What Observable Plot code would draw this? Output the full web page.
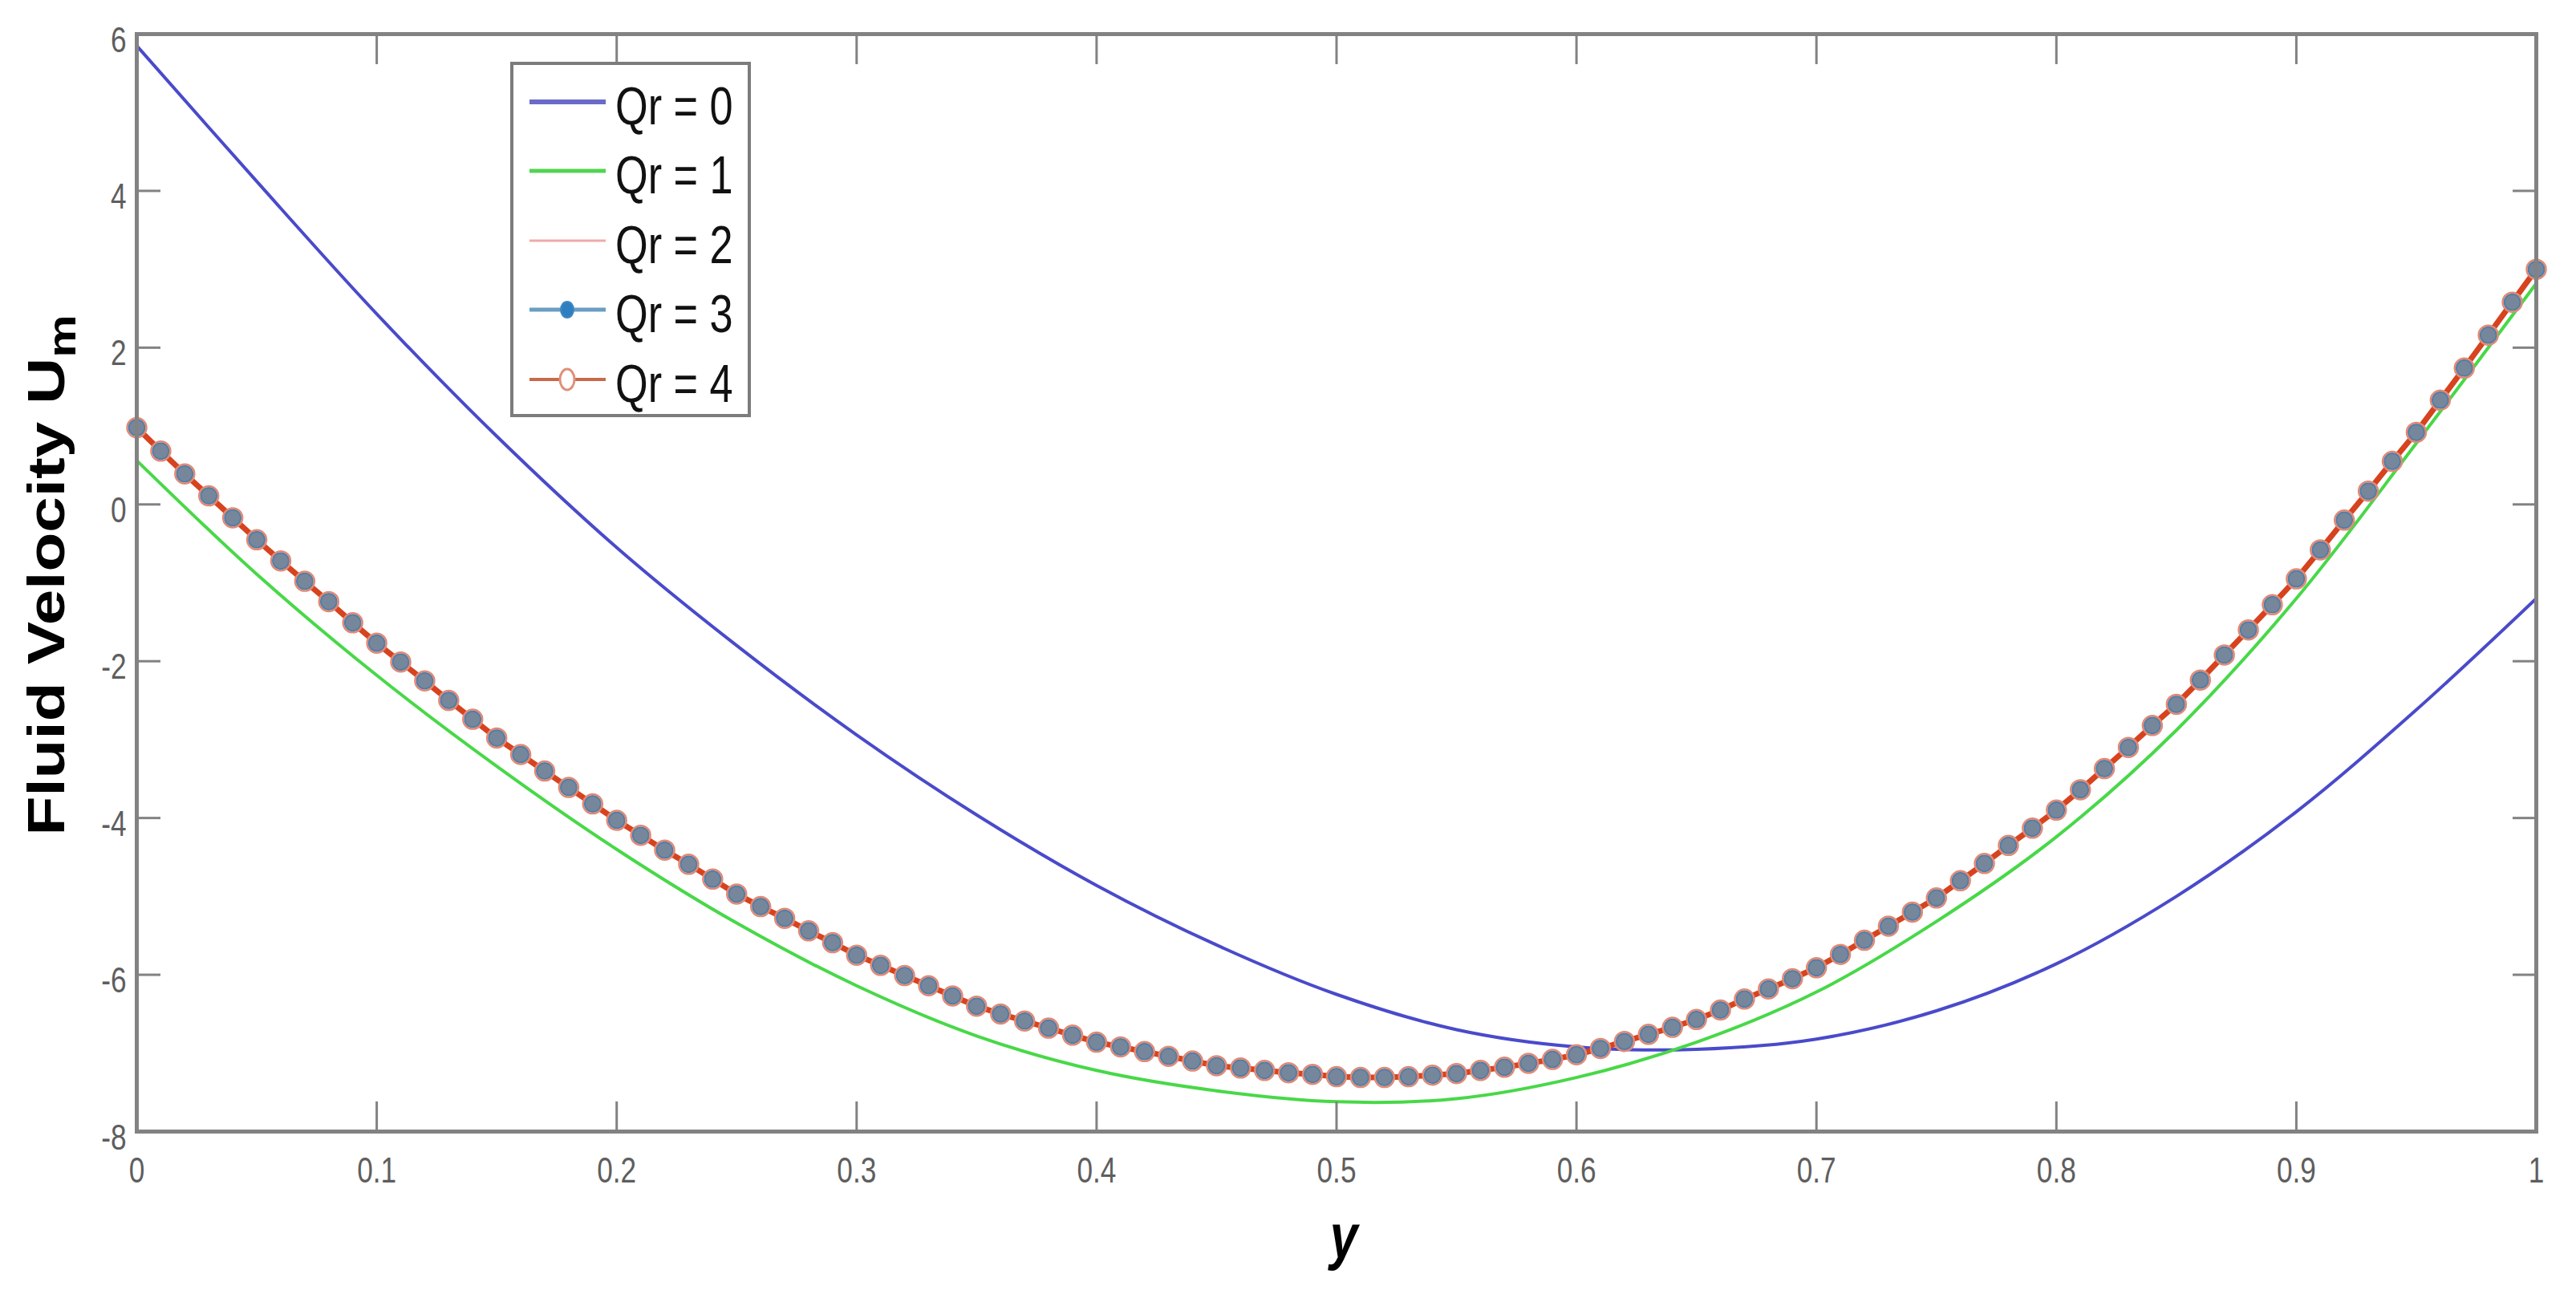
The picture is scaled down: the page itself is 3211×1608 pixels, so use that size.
<!DOCTYPE html>
<html>
<head>
<meta charset="utf-8">
<script src="https://cdn.jsdelivr.net/npm/d3@7"></script>
<script src="https://cdn.jsdelivr.net/npm/@observablehq/plot@0.6"></script>
<style>
  html, body { margin: 0; padding: 0; background: #fff; }
  #wrap { position: relative; width: 3211px; height: 1608px; overflow: hidden; }
  #legend { position: absolute; left: 636px; top: 77px; }
</style>
</head>
<body>
<div id="wrap"></div>
<script>
// ---- data ----
const seriesNames = ["Qr = 0", "Qr = 1", "Qr = 2", "Qr = 3", "Qr = 4"];
const xTicks = [0, 0.1, 0.2, 0.3, 0.4, 0.5, 0.6, 0.7, 0.8, 0.9, 1];
const yTicks = [-8, -6, -4, -2, 0, 2, 4, 6];

// positions (y) at which Qr = 0 and Qr = 1 were read
const yCoarse = [0, 0.05, 0.1, 0.15, 0.2, 0.25, 0.3, 0.35, 0.4, 0.45, 0.5,
                 0.55, 0.6, 0.65, 0.7, 0.75, 0.8, 0.85, 0.9, 0.95, 1];
const qr0 = [5.85, 4.12, 2.43, 0.87, -0.55, -1.80, -2.94, -3.96, -4.86, -5.62, -6.25,
             -6.70, -6.92, -6.95, -6.82, -6.46, -5.86, -5.00, -3.92, -2.62, -1.20];
const qr1 = [0.56, -0.89, -2.18, -3.34, -4.40, -5.34, -6.14, -6.78, -7.22, -7.48, -7.62,
             -7.58, -7.31, -6.86, -6.22, -5.32, -4.24, -2.88, -1.20, 0.78, 2.82];

// marker positions (every 0.01) for Qr = 2, 3, 4
const yFine = [0, 0.01, 0.02, 0.03, 0.04, 0.05, 0.06, 0.07, 0.08, 0.09,
  0.1, 0.11, 0.12, 0.13, 0.14, 0.15, 0.16, 0.17, 0.18, 0.19,
  0.2, 0.21, 0.22, 0.23, 0.24, 0.25, 0.26, 0.27, 0.28, 0.29,
  0.3, 0.31, 0.32, 0.33, 0.34, 0.35, 0.36, 0.37, 0.38, 0.39,
  0.4, 0.41, 0.42, 0.43, 0.44, 0.45, 0.46, 0.47, 0.48, 0.49,
  0.5, 0.51, 0.52, 0.53, 0.54, 0.55, 0.56, 0.57, 0.58, 0.59,
  0.6, 0.61, 0.62, 0.63, 0.64, 0.65, 0.66, 0.67, 0.68, 0.69,
  0.7, 0.71, 0.72, 0.73, 0.74, 0.75, 0.76, 0.77, 0.78, 0.79,
  0.8, 0.81, 0.82, 0.83, 0.84, 0.85, 0.86, 0.87, 0.88, 0.89,
  0.9, 0.91, 0.92, 0.93, 0.94, 0.95, 0.96, 0.97, 0.98, 0.99, 1];
// Qr = 2, 3 and 4 overlap in the picture; read as one set of values
const qr234 = [0.98, 0.68, 0.39, 0.11, -0.17, -0.45, -0.72, -0.98, -1.24, -1.51,
  -1.77, -2.01, -2.25, -2.50, -2.74, -2.98, -3.19, -3.40, -3.61, -3.82,
  -4.03, -4.22, -4.41, -4.59, -4.78, -4.97, -5.13, -5.28, -5.44, -5.59,
  -5.75, -5.88, -6.01, -6.14, -6.27, -6.40, -6.50, -6.59, -6.68, -6.77,
  -6.86, -6.92, -6.98, -7.04, -7.10, -7.16, -7.19, -7.22, -7.25, -7.27,
  -7.30, -7.31, -7.31, -7.30, -7.28, -7.26, -7.22, -7.18, -7.13, -7.08,
  -7.02, -6.94, -6.85, -6.76, -6.67, -6.57, -6.45, -6.31, -6.18, -6.05,
  -5.91, -5.74, -5.56, -5.38, -5.20, -5.02, -4.80, -4.58, -4.35, -4.13,
  -3.90, -3.64, -3.37, -3.10, -2.82, -2.55, -2.24, -1.92, -1.60, -1.28,
  -0.95, -0.58, -0.20, 0.17, 0.55, 0.92, 1.33, 1.74, 2.16, 2.58, 3.00];
const qr2 = qr234, qr3 = qr234, qr4 = qr234;

// ---- build tables ----
const tab = (xs, vs) => xs.map((x, i) => ({x, v: vs[i]}));
const rows0 = tab(yCoarse, qr0), rows1 = tab(yCoarse, qr1);
const rows2 = tab(yFine, qr2), rows3 = tab(yFine, qr3), rows4 = tab(yFine, qr4);

const axisGray = "#828282";
const labelGray = "#5e5e5e";
const noText = () => "";

const chart = Plot.plot({
  width: 3211,
  height: 1608,
  marginLeft: 170,
  marginRight: 50,
  marginTop: 42,
  marginBottom: 198,
  x: {domain: [0, 1]},
  y: {domain: [-8, 6]},
  style: {fontFamily: "'Liberation Sans', Arial, sans-serif", background: "#fff", overflow: "visible"},
  marks: [
    Plot.line(rows0, {x: "x", y: "v", stroke: "#4a4acb", strokeWidth: 4, curve: "catmull-rom"}),
    Plot.line(rows1, {x: "x", y: "v", stroke: "#48d848", strokeWidth: 4, curve: "catmull-rom"}),
    Plot.line(rows2, {x: "x", y: "v", stroke: "#f2a0a0", strokeWidth: 2}),
    Plot.line(rows3, {x: "x", y: "v", stroke: "#4a7fb0", strokeWidth: 5}),
    Plot.line(rows4, {x: "x", y: "v", stroke: "#d6431e", strokeWidth: 7}),
    Plot.dot(rows3, {x: "x", y: "v", r: 10, fill: "#76879c", stroke: "#4d7eaa", strokeWidth: 2}),
    Plot.dot(rows4, {x: "x", y: "v", r: 12, fill: "none", stroke: "#e08a76", strokeWidth: 2.5}),
    // ticks (inward, MATLAB box style)
    Plot.axisX(xTicks, {anchor: "bottom", tickSize: -37, tickFormat: noText, fill: "none", label: null, stroke: axisGray, strokeWidth: 3}),
    Plot.axisX(xTicks, {anchor: "top", tickSize: -37, tickFormat: noText, fill: "none", label: null, stroke: axisGray, strokeWidth: 3}),
    Plot.axisY(yTicks, {anchor: "left", tickSize: -30, tickFormat: noText, fill: "none", label: null, stroke: axisGray, strokeWidth: 3}),
    Plot.axisY(yTicks, {anchor: "right", tickSize: -30, tickFormat: noText, fill: "none", label: null, stroke: axisGray, strokeWidth: 3}),
    // tick labels
    Plot.axisX(xTicks, {anchor: "bottom", tickSize: 0, tickPadding: 32, tickFormat: d => String(d), label: null, fontSize: 44, fill: labelGray}),
    Plot.axisY(yTicks, {anchor: "left", tickSize: 0, tickPadding: 13, dy: 8, tickFormat: d => String(d), label: null, fontSize: 44, fill: labelGray}),
    Plot.frame({stroke: axisGray, strokeWidth: 5})
  ]
});

document.getElementById("wrap").appendChild(chart);

const svg = d3.select(chart);
// horizontally squeeze tick labels like the reference
function squeeze(sel, s) {
  sel.each(function () {
    const el = d3.select(this);
    const tr = el.attr("transform");
    if (tr) el.attr("transform", tr + ` scale(${s},1)`);
    else {
      const x = +el.attr("x") || 0;
      el.attr("x", null).attr("transform", `translate(${x},0) scale(${s},1)`);
    }
  });
}
squeeze(svg.selectAll("g[aria-label='x-axis tick label'] text, g[aria-label='y-axis tick label'] text"), 0.8);

// axis titles
svg.append("text")
  .attr("transform", "translate(1675,1568) scale(0.8,1)")
  .attr("text-anchor", "middle")
  .attr("font-size", 78)
  .attr("font-weight", "bold")
  .attr("font-style", "italic")
  .attr("fill", "#000")
  .text("y");

const yl = svg.append("text")
  .attr("transform", "translate(80,717) rotate(-90) scale(1,0.8)")
  .attr("text-anchor", "middle")
  .attr("font-size", 80)
  .attr("font-weight", "bold")
  .attr("fill", "#000");
yl.append("tspan").text("Fluid Velocity U");
yl.append("tspan").attr("font-size", 60).attr("dy", 18).text("m");

// legend (overlaid in the upper-left of the plot box, as in the reference)
const legendStyles = [
  {stroke: "#6a6ac8", width: 6, marker: null},
  {stroke: "#52d452", width: 5, marker: null},
  {stroke: "#f0aaaa", width: 3, marker: null},
  {stroke: "#6a9ec2", width: 5, marker: "dot"},
  {stroke: "#c86a4a", width: 4, marker: "ring"}
];
const rowCy = [50, 136, 223, 309, 396];
const leg = d3.select("#wrap").append("svg")
  .attr("id", "legend")
  .attr("width", 300).attr("height", 443)
  .style("font-family", "'Liberation Sans', Arial, sans-serif");
leg.append("rect").attr("x", 2).attr("y", 2).attr("width", 296).attr("height", 439)
  .attr("fill", "#fff").attr("stroke", "#7c7c7c").attr("stroke-width", 4);
seriesNames.forEach((name, i) => {
  const st = legendStyles[i], cy = rowCy[i];
  leg.append("line").attr("x1", 24).attr("x2", 119).attr("y1", cy).attr("y2", cy)
    .attr("stroke", st.stroke).attr("stroke-width", st.width);
  if (st.marker === "dot") {
    leg.append("ellipse").attr("cx", 71).attr("cy", cy).attr("rx", 8).attr("ry", 10)
      .attr("fill", "#2f7fc0").attr("stroke", "#3f88c0").attr("stroke-width", 2);
  } else if (st.marker === "ring") {
    leg.append("ellipse").attr("cx", 71).attr("cy", cy).attr("rx", 9).attr("ry", 13)
      .attr("fill", "#fff").attr("stroke", "#e0907a").attr("stroke-width", 3);
  }
  leg.append("text")
    .attr("transform", `translate(131,${cy + 28}) scale(0.78,1)`)
    .attr("font-size", 67).attr("fill", "#111")
    .text(name);
});
</script>
</body>
</html>
